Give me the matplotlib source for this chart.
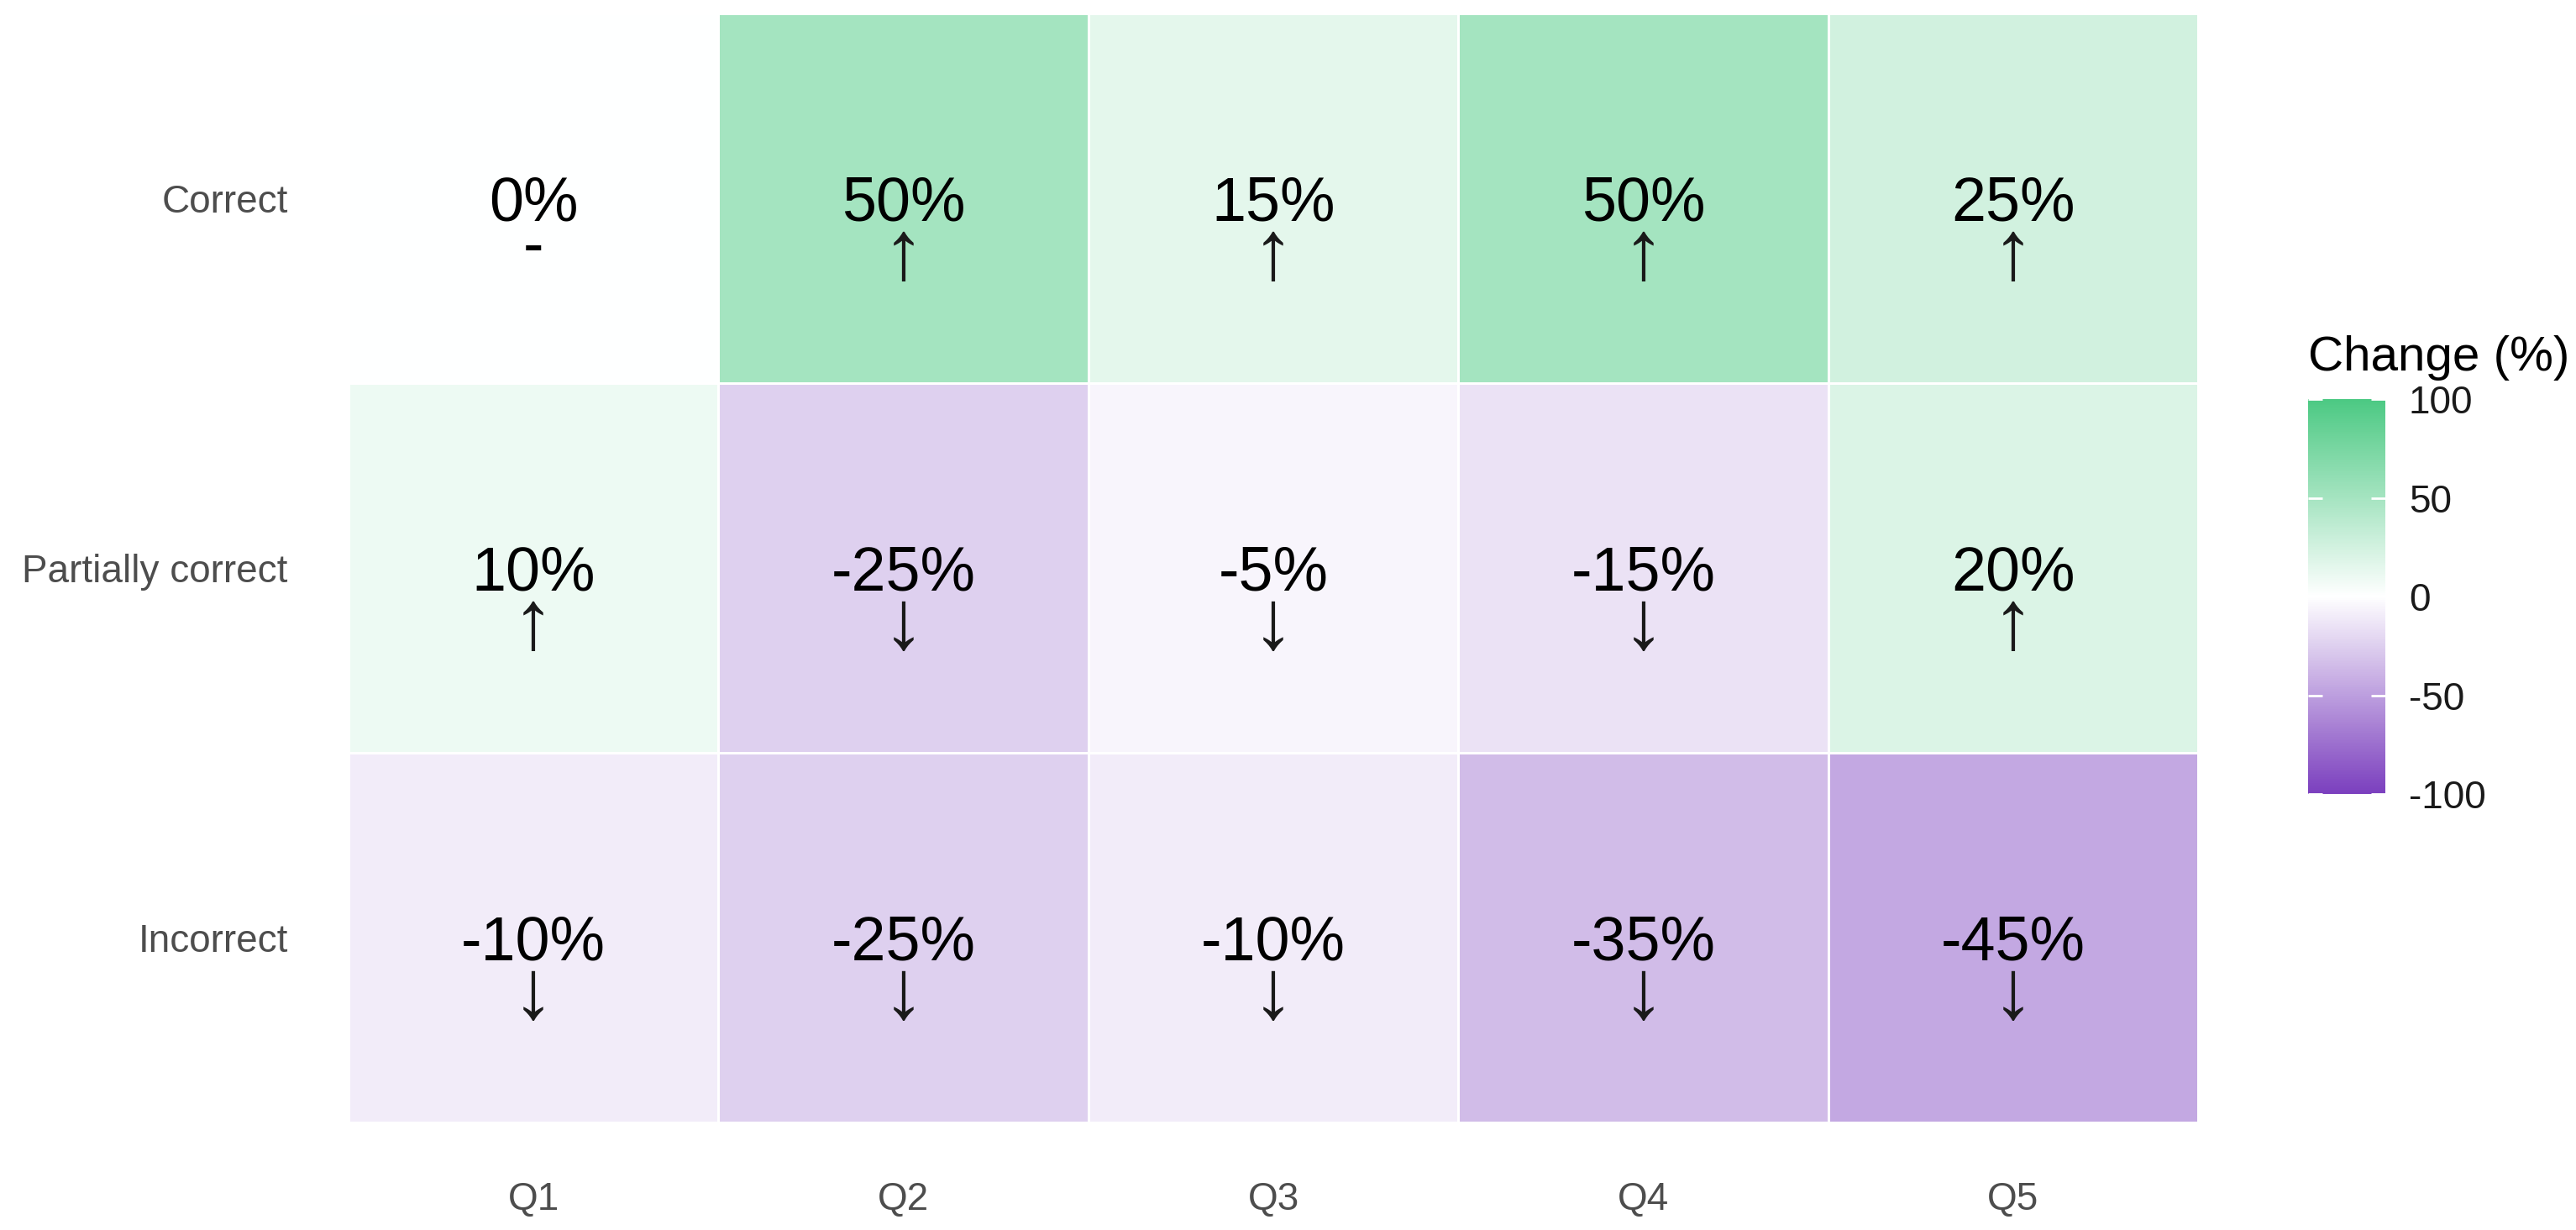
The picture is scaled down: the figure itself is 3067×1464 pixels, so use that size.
import numpy as np
import matplotlib.pyplot as plt
from matplotlib.colors import LinearSegmentedColormap, Normalize

plt.rcParams['font.family'] = ['Liberation Sans', 'DejaVu Sans']
plt.rcParams['axes.unicode_minus'] = False

questions = ["Q1", "Q2", "Q3", "Q4", "Q5"]
outcomes = ["Correct", "Partially correct", "Incorrect"]

# percentage change per outcome (rows) and question (columns)
change_correct = [0, 50, 15, 50, 25]
change_partial = [10, -25, -5, -15, 20]
change_incorrect = [-10, -25, -10, -35, -45]

values = np.array([change_correct, change_partial, change_incorrect])

cmap = LinearSegmentedColormap.from_list(
    "change", [(0.0, "#7b3fbe"), (0.5, "#ffffff"), (1.0, "#4cc983")])
norm = Normalize(vmin=-100, vmax=100)

fig = plt.figure(figsize=(30.67, 14.64), dpi=100)
ax = fig.add_axes([0.1353, 0.0874, 0.7180, 0.9016])

ax.pcolormesh(np.arange(len(questions) + 1), np.arange(len(outcomes) + 1), values,
              cmap=cmap, norm=norm, edgecolors="white", linewidth=2)
ax.set_xlim(0, len(questions))
ax.set_ylim(len(outcomes), 0)

for i in range(len(outcomes)):
    for j in range(len(questions)):
        v = values[i, j]
        ax.text(j + 0.5, i + 0.56, f"{v}%", ha="center", va="baseline",
                fontsize=53, color="black")
        if v == 0:
            ax.text(j + 0.5, i + 0.635, "-", ha="center", va="center",
                    fontsize=53, color="black")
        else:
            sign = "\u2191" if v > 0 else "\u2193"
            ax.text(j + 0.5, i + 0.66, sign, ha="center", va="center",
                    fontsize=72, color="#1a1a1a")

ax.set_xticks(np.arange(len(questions)) + 0.5)
ax.set_xticklabels(questions)
ax.set_yticks(np.arange(len(outcomes)) + 0.5)
ax.set_yticklabels(outcomes)
ax.tick_params(axis="both", length=0, labelsize=33, labelcolor="#4d4d4d")
ax.tick_params(axis="y", pad=52)
ax.tick_params(axis="x", pad=50)
for s in ax.spines.values():
    s.set_visible(False)

cax = fig.add_axes([0.896, 0.3545, 0.030, 0.321])
sm = plt.cm.ScalarMappable(cmap=cmap, norm=norm)
cb = fig.colorbar(sm, cax=cax, ticks=[-100, -50, 0, 50, 100])
cb.outline.set_visible(False)
cax.tick_params(axis="y", direction="in", length=12, width=2, color="white",
                labelsize=33, labelcolor="#1a1a1a", pad=20, left=True, right=True)
fig.text(0.896, 0.709, "Change (%)", fontsize=42, ha="left", va="center",
         color="black")

fig.savefig("out.png", dpi=100, facecolor="white")
